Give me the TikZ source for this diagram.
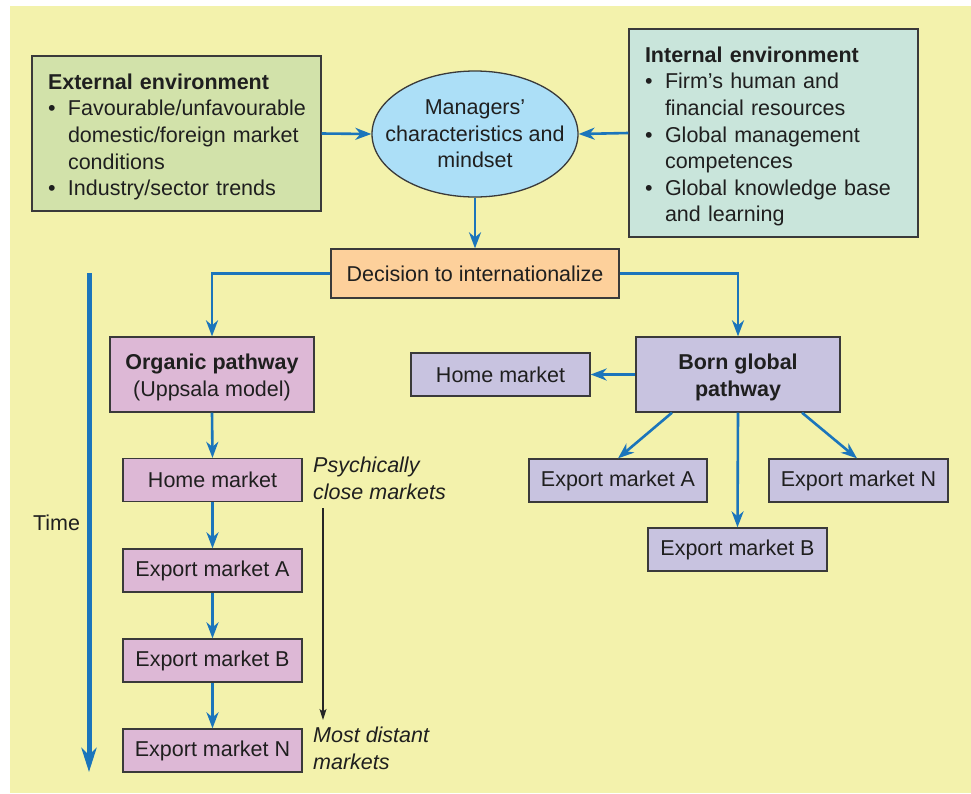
\documentclass[tikz,border=0pt]{standalone}
\usepackage{fontspec}
\setmainfont{Liberation Sans}
\usetikzlibrary{arrows.meta,shapes.geometric}

\definecolor{bgyellow}{HTML}{F3F2AC}
\definecolor{extgreen}{HTML}{D2E2AA}
\definecolor{intgreen}{HTML}{C9E5DB}
\definecolor{mindblue}{HTML}{ACDFF7}
\definecolor{decpeach}{HTML}{FDD09B}
\definecolor{orgpink}{HTML}{DDB8D6}
\definecolor{bglav}{HTML}{C8C3E0}
\definecolor{flowblue}{HTML}{1B75BB}
\definecolor{edgegrey}{HTML}{3A3A3A}

\newcommand{\bulitem}{\makebox[20pt][l]{•}}
\newcommand{\contline}{\hspace*{20pt}}
\newcommand{\topstrut}{\rule{0pt}{22.5pt}}
\newcommand{\pathstrut}{\rule{0pt}{21pt}}

\tikzset{
  box/.style={draw=edgegrey, line width=1.3pt, rectangle, inner sep=0pt, align=center},
  market/.style={box, minimum width=179pt, minimum height=43pt},
  envbox/.style={box, text width=257pt, inner xsep=16pt, align=left, anchor=center},
  flow/.style={draw=flowblue, line width=2.6pt, -{Stealth[length=16pt,width=12pt,inset=5pt]}},
  timeflow/.style={draw=flowblue, line width=5pt, -{Stealth[length=24pt,width=15pt,inset=7pt]}},
  thinflow/.style={draw=black!85, line width=1.1pt, -{Stealth[length=11pt,width=7pt,inset=2.5pt]}},
  note/.style={font=\fontsize{21.5}{26.6}\selectfont\itshape, align=left, inner sep=0pt, anchor=north west}
}

\begin{document}
\begin{tikzpicture}[x=1pt, y=-1pt, every node/.append style={font=\fontsize{21.5}{26.6}\selectfont, text=black!88}]
  \useasboundingbox (0,0) rectangle (971,793);
  \fill[bgyellow] (10,6) rectangle (971,793);

  % environment boxes and the managers' mindset
  \node[envbox, fill=extgreen, minimum width=289pt, minimum height=155pt] (ext) at (176.5,133.5)
    {\topstrut\textbf{External environment}\\
     \bulitem Favourable/unfavourable\\
     \contline domestic/foreign market\\
     \contline conditions\\
     \bulitem Industry/sector trends};
  \node[envbox, fill=intgreen, minimum width=289pt, minimum height=208pt] (int) at (773.5,133)
    {\topstrut\textbf{Internal environment}\\
     \bulitem Firm’s human and\\
     \contline financial resources\\
     \bulitem Global management\\
     \contline competences\\
     \bulitem Global knowledge base\\
     \contline and learning};
  \node[ellipse, draw=edgegrey, line width=1.3pt, fill=mindblue, inner sep=0pt,
        minimum width=206pt, minimum height=126pt] (mind) at (475,134) {};
  \node[align=center, inner sep=0pt] (mindtext) at (mind.center)
    {Managers’\\characteristics and\\mindset};

  \node[box, fill=decpeach, minimum width=288pt, minimum height=49pt] (dec) at (475,273.5)
    {Decision to internationalize};

  % organic pathway
  \node[box, fill=orgpink, minimum width=204pt, minimum height=75pt] (org) at (212,374.5)
    {\pathstrut\textbf{Organic pathway}\\(Uppsala model)};
  \node[market, fill=orgpink] (ohome) at (212.5,480) {Home market};
  \node[market, fill=orgpink] (oexpA) at (212.5,570.5) {Export market A};
  \node[market, fill=orgpink] (oexpB) at (212.5,660.5) {Export market B};
  \node[market, fill=orgpink] (oexpN) at (212.5,750.5) {Export market N};

  % born global pathway
  \node[box, fill=bglav, minimum width=204pt, minimum height=75pt] (born) at (738,374.5)
    {\pathstrut\textbf{Born global}\\\textbf{pathway}};
  \node[market, fill=bglav] (bhome) at (500.5,374.5) {Home market};
  \node[market, fill=bglav, minimum width=178pt] (bexpA) at (618,480.5) {Export market A};
  \node[market, fill=bglav] (bexpN) at (858.5,480.5) {Export market N};
  \node[market, fill=bglav] (bexpB) at (737.5,549.5) {Export market B};

  % annotations
  \node[note] (close) at (313,457) {Psychically\\close markets};
  \node[note] (distant) at (313,727) {Most distant\\markets};
  \node[anchor=base, inner sep=0pt] (time) at (56.5,530) {Time};

  \coordinate (timetop) at (89,273);
  \coordinate (timeend) at (89,772);
  \coordinate (disttop) at (323,508);
  \coordinate (distend) at (323,720);

  % connectors
  \draw[flow] (ext.east) -- (mind.west);
  \draw[flow] (int.west) -- (mind.east);
  \draw[flow] (mind.south) -- (dec.north);
  \draw[flow] (dec.west) -| (org.north);
  \draw[flow] (dec.east) -| (born.north);
  \draw[flow] (org.south) -- (ohome.north);
  \draw[flow] (ohome.south) -- (oexpA.north);
  \draw[flow] (oexpA.south) -- (oexpB.north);
  \draw[flow] (oexpB.south) -- (oexpN.north);
  \draw[flow] (born.west) -- (bhome.east);
  \draw[flow] ([xshift=-66pt]born.south) -- (bexpA.north);
  \draw[flow] (born.south) -- (bexpB.north);
  \draw[flow] ([xshift=64pt]born.south) -- ([xshift=-1.5pt]bexpN.north);

  \draw[timeflow] (timetop) -- (timeend);
  \draw[thinflow] (disttop) -- (distend);
\end{tikzpicture}
\end{document}
